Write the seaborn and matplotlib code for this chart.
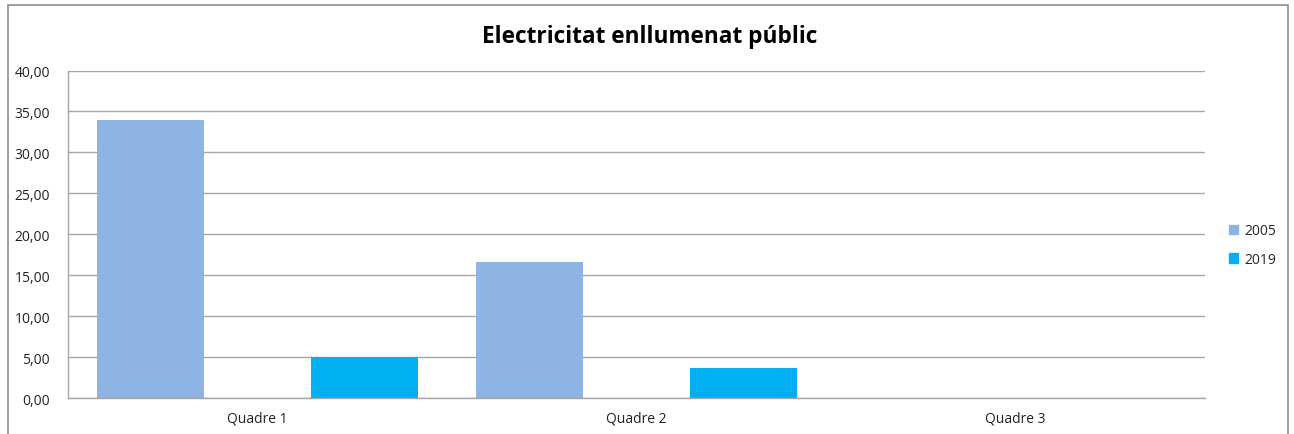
import matplotlib
matplotlib.use("Agg")
import matplotlib.pyplot as plt
import seaborn as sns
import pandas as pd
from matplotlib.patches import Rectangle

categories = ["Quadre 1", "Quadre 2", "Quadre 3"]
series_names = ["2005", "2019"]
values_2005 = [33.93, 16.60, 0.0]
values_2019 = [4.99, 3.67, 0.0]
y_ticks = [0, 5, 10, 15, 20, 25, 30, 35, 40]
y_tick_labels = ["0,00", "5,00", "10,00", "15,00", "20,00", "25,00", "30,00", "35,00", "40,00"]
colors = ["#8EB4E3", "#00B0F0"]

df = pd.DataFrame({
    "cat": categories * 2,
    "serie": [series_names[0]] * 3 + [series_names[1]] * 3,
    "val": values_2005 + values_2019,
})

sns.set_theme(style="white")
plt.rcParams["font.family"] = ["Open Sans", "DejaVu Sans"]

fig = plt.figure(figsize=(12.94, 4.35), dpi=100)
ax = fig.add_axes([68/1294, 1-399.4/435, (1205-68)/1294, (399.4-71.5)/435])

sns.barplot(data=df, x="cat", y="val", hue="serie", palette=colors,
            width=1.129, gap=0.5, ax=ax, legend=False, saturation=1,
            edgecolor="none", linewidth=0)

ax.set_xlim(-0.5, 2.5)
ax.set_ylim(0, 40)
ax.set_yticks(y_ticks)
ax.set_yticklabels(y_tick_labels, fontsize=10, color="#222222")
ax.tick_params(axis="x", labelsize=10, colors="#222222", length=0, pad=9)
ax.tick_params(axis="y", length=0, pad=13)
ax.set_xlabel("")
ax.set_ylabel("")
ax.yaxis.grid(True, color="#A6A6A6", linewidth=1)
ax.set_axisbelow(True)
for s in ["top", "right"]:
    ax.spines[s].set_visible(False)
for s in ["left", "bottom"]:
    ax.spines[s].set_color("#A6A6A6")
    ax.spines[s].set_linewidth(1)

# legend
handles = [Rectangle((0, 0), 1, 1, color=c) for c in colors]
fig.legend(handles, series_names, loc="center left",
           bbox_to_anchor=(1216/1294, 1-246/435), frameon=False,
           fontsize=10, handlelength=0.7, handleheight=0.7,
           handletextpad=0.45, labelspacing=0.95)

fig.text(650/1294, 1-37/435, "Electricitat enllumenat públic",
         ha="center", va="center", fontsize=16.3, fontweight="bold", color="#000000")

# chart border
fig.patches.append(Rectangle((8/1294, -0.1), (1288-8)/1294, 1.1-6/435,
                             transform=fig.transFigure, fill=False,
                             edgecolor="#8C8C8C", linewidth=1.2))

fig.savefig("out.png", dpi=100)
